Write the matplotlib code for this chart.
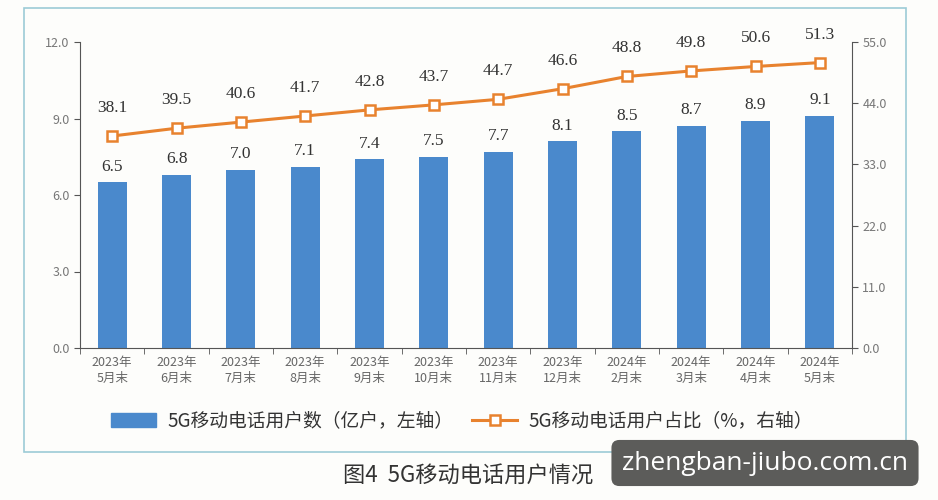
import matplotlib
matplotlib.use("Agg")
import matplotlib.pyplot as plt
from matplotlib.patches import Rectangle
from matplotlib.lines import Line2D
import numpy as np

plt.rcParams['font.family'] = ['Noto Sans CJK SC', 'DejaVu Sans']

categories = ["2023年\n5月末", "2023年\n6月末", "2023年\n7月末", "2023年\n8月末", "2023年\n9月末",
              "2023年\n10月末", "2023年\n11月末", "2023年\n12月末", "2024年\n2月末", "2024年\n3月末",
              "2024年\n4月末", "2024年\n5月末"]
users = [6.5, 6.8, 7.0, 7.1, 7.4, 7.5, 7.7, 8.1, 8.5, 8.7, 8.9, 9.1]
share = [38.1, 39.5, 40.6, 41.7, 42.8, 43.7, 44.7, 46.6, 48.8, 49.8, 50.6, 51.3]
left_ticks = [0.0, 3.0, 6.0, 9.0, 12.0]
right_ticks = [0.0, 11.0, 22.0, 33.0, 44.0, 55.0]
legend_labels = ["5G移动电话用户数（亿户，左轴）", "5G移动电话用户占比（%，右轴）"]
caption = "图4  5G移动电话用户情况"
watermark = "zhengban-jiubo.com.cn"

W, H = 938, 500
fig = plt.figure(figsize=(W / 100, H / 100), dpi=100)
fig.patch.set_facecolor('#fdfdfb')

# frame
fig.add_artist(Rectangle((24 / W, 1 - 452 / H), (906 - 24) / W, (452 - 8) / H,
                         transform=fig.transFigure, fill=False, edgecolor='#9ccbd6', lw=1.2))

ax = fig.add_axes([80 / W, 1 - 348 / H, (852 - 80) / W, (348 - 42) / H])
ax.set_facecolor('none')
ax2 = ax.twinx()

x = np.arange(len(categories))
bar_color = '#4a89cc'
line_color = '#e8822e'
ax.bar(x, users, width=0.45, color=bar_color, zorder=2)
ax.set_xlim(-0.5, len(categories) - 0.5)
ax.set_ylim(0, 12)
ax2.set_ylim(0, 55)

ax2.plot(x, share, color=line_color, lw=2.2, marker='s', markersize=6.5,
         markerfacecolor='white', markeredgecolor=line_color, markeredgewidth=1.8, zorder=3)

serif = ['Liberation Serif', 'DejaVu Serif']
for xi, v in zip(x, users):
    ax.text(xi, v + 0.3, f"{v:.1f}", ha='center', va='bottom', fontsize=12.5, family=serif, color='#333333')
for xi, v in zip(x, share):
    ax2.text(xi, v + 3.6, f"{v:.1f}", ha='center', va='bottom', fontsize=12.5, family=serif, color='#333333')

ax.set_yticks(left_ticks)
ax.set_yticklabels([f"{t:.1f}" for t in left_ticks])
ax2.set_yticks(right_ticks)
ax2.set_yticklabels([f"{t:.1f}" for t in right_ticks])
ax.set_xticks(x)
ax.set_xticklabels(categories, fontsize=9, color='#666666', linespacing=1.3)
ax.set_xticks(np.arange(len(categories) + 1) - 0.5, minor=True)
ax.tick_params(axis='x', which='major', length=0, pad=6)
ax.tick_params(axis='x', which='minor', length=4, color='#555555')
ax.tick_params(axis='y', labelsize=9, labelcolor='#777777', length=4, color='#555555')
ax2.tick_params(axis='y', labelsize=9, labelcolor='#777777', length=4, color='#555555')

for a in (ax, ax2):
    a.spines['top'].set_visible(False)
    a.spines['left'].set_color('#555555')
    a.spines['right'].set_color('#555555')
    a.spines['bottom'].set_color('#555555')
ax.spines['right'].set_visible(False)
ax2.spines['left'].set_visible(False)
ax2.spines['bottom'].set_visible(False)

handles = [Rectangle((0, 0), 1, 1, color=bar_color),
           Line2D([], [], color=line_color, lw=2.2, marker='s', markersize=6.5,
                  markerfacecolor='white', markeredgecolor=line_color, markeredgewidth=1.8)]
fig.legend(handles, legend_labels, loc='center', bbox_to_anchor=(462 / W, 1 - 421 / H),
           ncol=2, frameon=False, fontsize=13.5, handlelength=2.4, columnspacing=1.0,
           handletextpad=0.6, labelcolor='#333333')

fig.text(468 / W, 1 - 476 / H, caption, ha='center', va='center', fontsize=16, color='#333333')

fig.text(765 / W, 1 - 463 / H, watermark, ha='center', va='center', fontsize=19, color='white',
         family=['Open Sans', 'DejaVu Sans'],
         bbox=dict(boxstyle='round,pad=0.4,rounding_size=0.3', facecolor='#5c5c5a', edgecolor='none'))

fig.savefig('out.png', dpi=100, facecolor=fig.get_facecolor())
